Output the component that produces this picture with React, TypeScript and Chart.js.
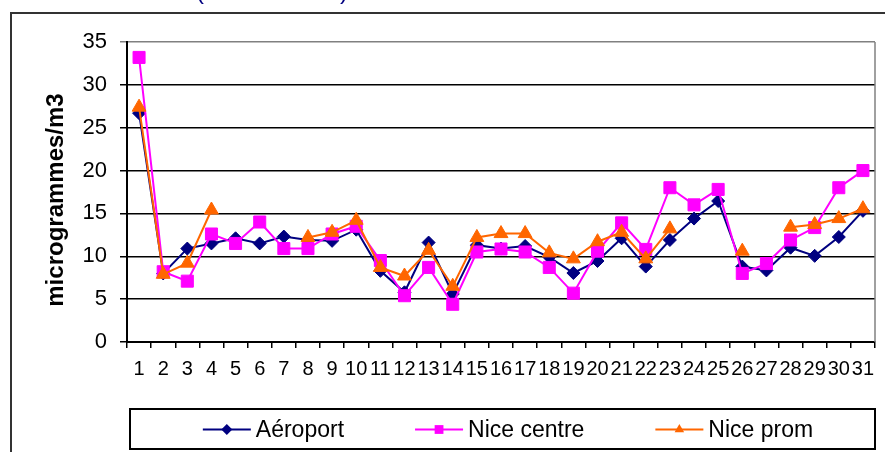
import React, { useEffect, useRef } from "react";
import { Chart, registerables } from "chart.js";

Chart.register(...registerables);

const days = ["1","2","3","4","5","6","7","8","9","10","11","12","13","14","15","16","17","18","19","20","21","22","23","24","25","26","27","28","29","30","31"];

const aeroport = [26.7, 8.0, 10.9, 11.5, 12.1, 11.5, 12.3, 11.9, 11.8, 13.1, 8.3, 5.8, 11.6, 5.6, 11.3, 10.9, 11.2, 9.9, 8.05, 9.45, 12.1, 8.8, 11.9, 14.4, 16.45, 8.8, 8.35, 11.0, 10.05, 12.25, 15.3];
const niceCentre = [33.2, 8.2, 7.1, 12.6, 11.5, 14.0, 10.9, 10.9, 12.6, 13.5, 9.5, 5.4, 8.7, 4.4, 10.5, 10.85, 10.5, 8.7, 5.7, 10.6, 13.9, 10.8, 18.0, 16.0, 17.8, 8.0, 9.15, 11.9, 13.35, 18.0, 20.0];
const nicePromenade = [27.4, 7.9, 9.2, 15.4, null, null, null, 12.2, 12.8, 14.2, 8.7, 7.7, 10.7, 6.5, 12.2, 12.65, 12.65, 10.4, 9.7, 11.7, 12.8, 9.7, 13.2, null, null, 10.6, null, 13.4, 13.7, 14.4, 15.55];

const seriesNames = ["Aéroport", "Nice centre", "Nice prom"];
const seriesColors = ["#000080", "#FF00FF", "#FF6600"];
const seriesMarkers = ["rectRot", "rect", "triangle"];

const yMin = 0;
const yMax = 35;
const yStep = 5;
const yTitle = "microgrammes/m3";

const FONT = "'Liberation Sans', Arial, sans-serif";

function drawMarker(ctx: CanvasRenderingContext2D, style: string, x: number, y: number, r: number) {
  ctx.beginPath();
  if (style === "rectRot") {
    ctx.moveTo(x - r, y);
    ctx.lineTo(x, y - r);
    ctx.lineTo(x + r, y);
    ctx.lineTo(x, y + r);
  } else if (style === "rect") {
    ctx.rect(x - r * 0.8, y - r * 0.8, r * 1.6, r * 1.6);
  } else {
    ctx.moveTo(x, y - r);
    ctx.lineTo(x + r * 0.866, y + r * 0.5);
    ctx.lineTo(x - r * 0.866, y + r * 0.5);
  }
  ctx.closePath();
  ctx.fill();
}

const decor = {
  id: "decor",
  beforeDraw(chart: any) {
    const ctx = chart.ctx as CanvasRenderingContext2D;
    ctx.save();
    ctx.fillStyle = "#ffffff";
    ctx.fillRect(0, 0, chart.width, chart.height);
    ctx.restore();
  },
  afterDraw(chart: any) {
    const ctx = chart.ctx as CanvasRenderingContext2D;
    const a = chart.chartArea;
    ctx.save();
    // outer frame
    ctx.strokeStyle = "#333333";
    ctx.lineWidth = 2;
    ctx.strokeRect(11, 13, 1000, 1000);
    // plot area right border
    ctx.strokeStyle = "#808080";
    ctx.lineWidth = 1.5;
    ctx.beginPath();
    ctx.moveTo(a.right, a.top);
    ctx.lineTo(a.right, a.bottom);
    ctx.stroke();
    // title (only the bottom of the parentheses is visible)
    ctx.fillStyle = "#000080";
    ctx.font = `24px ${FONT}`;
    ctx.textBaseline = "alphabetic";
    ctx.textAlign = "left";
    ctx.fillText("(", 196, -1);
    ctx.fillText(")", 340, -1);
    // y title
    ctx.save();
    ctx.translate(56, 200);
    ctx.rotate(-Math.PI / 2);
    ctx.fillStyle = "#000000";
    ctx.font = `bold 24px ${FONT}`;
    ctx.textAlign = "center";
    ctx.textBaseline = "middle";
    ctx.fillText(yTitle, 0, 0);
    ctx.restore();
    // legend
    const bx = 130, by = 409, bw = 745, bh = 40;
    ctx.strokeStyle = "#000000";
    ctx.lineWidth = 2;
    ctx.strokeRect(bx, by, bw, bh);
    ctx.font = `23px ${FONT}`;
    const ds = chart.data.datasets;
    const lineLen = 48, textGap = 5, itemGap = 71;
    const widths = ds.map((d: any) => lineLen + textGap + ctx.measureText(d.label).width);
    const total = widths.reduce((s: number, w: number) => s + w, 0) + itemGap * (ds.length - 1);
    let x = 508 - total / 2;
    const cy = by + bh / 2 + 0.5;
    ds.forEach((d: any, i: number) => {
      ctx.strokeStyle = d.borderColor;
      ctx.lineWidth = 2;
      ctx.beginPath();
      ctx.moveTo(x, cy);
      ctx.lineTo(x + lineLen, cy);
      ctx.stroke();
      ctx.fillStyle = d.borderColor;
      drawMarker(ctx, d.pointStyle, x + lineLen / 2, cy, 5.5);
      ctx.fillStyle = "#000000";
      ctx.textAlign = "left";
      ctx.textBaseline = "middle";
      ctx.fillText(d.label, x + lineLen + textGap, cy + 1);
      x += widths[i] + itemGap;
    });
    ctx.restore();
  },
};

export default function App() {
  const ref = useRef<HTMLCanvasElement | null>(null);
  useEffect(() => {
    document.body.style.margin = "0";
    if (!ref.current) return;
    const series = [aeroport, niceCentre, nicePromenade];
    const radii = [6.5, 8.5, 8];
    const chart = new Chart(ref.current, {
      type: "line",
      data: {
        labels: days,
        datasets: series.map((data, i) => ({
          label: seriesNames[i],
          data,
          borderColor: seriesColors[i],
          backgroundColor: seriesColors[i],
          pointBackgroundColor: seriesColors[i],
          pointBorderColor: seriesColors[i],
          pointStyle: seriesMarkers[i] as any,
          pointRadius: radii[i],
          pointBorderWidth: 1,
          borderWidth: 2,
          tension: 0,
          spanGaps: false,
          order: 3 - i,
        })),
      },
      options: {
        animation: false,
        responsive: false,
        devicePixelRatio: 1,
        layout: { padding: { left: 0, right: 10, top: 42, bottom: 0 } },
        plugins: {
          legend: { display: false },
          tooltip: { enabled: false },
          title: { display: false },
        },
        scales: {
          x: {
            type: "category",
            offset: true,
            grid: {
              offset: true,
              drawOnChartArea: false,
              drawTicks: true,
              tickLength: 6,
              color: "#000000",
              lineWidth: 1.5,
            },
            border: { color: "#000000", width: 2 },
            ticks: {
              color: "#000000",
              font: { family: FONT, size: 20 },
              padding: 9,
              maxRotation: 0,
              minRotation: 0,
              autoSkip: false,
            },
            afterFit(scale: any) {
              scale.height = 110;
            },
          },
          y: {
            min: yMin,
            max: yMax,
            grid: {
              color: (c: any) => (c.tick && c.tick.value === yMax ? "#808080" : "#000000"),
              lineWidth: 1.5,
              tickLength: 7,
            },
            border: { color: "#000000", width: 2 },
            ticks: {
              stepSize: yStep,
              color: "#000000",
              font: { family: FONT, size: 22 },
              padding: 13,
            },
            afterFit(scale: any) {
              scale.width = 127;
            },
          },
        },
      },
      plugins: [decor],
    });
    return () => chart.destroy();
  }, []);
  return <canvas ref={ref} width={885} height={452} style={{ display: "block" }} />;
}
